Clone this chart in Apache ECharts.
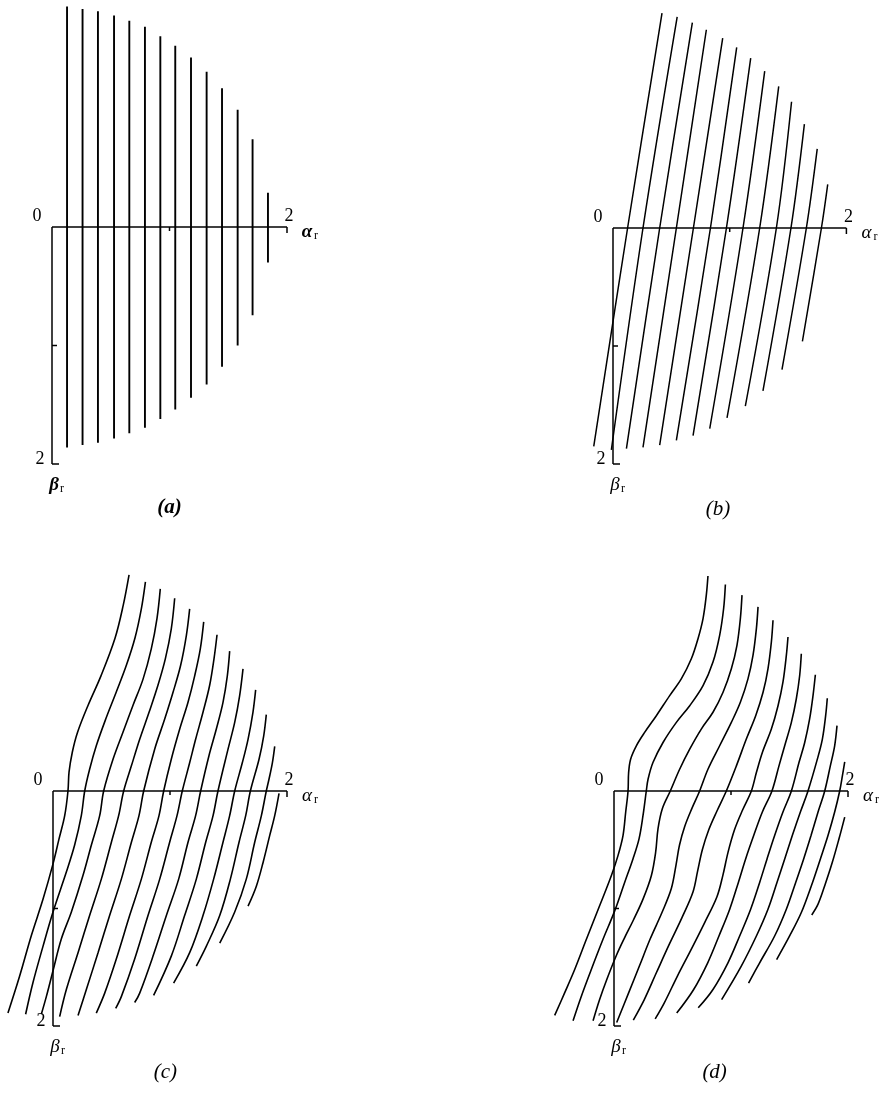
<!DOCTYPE html>
<html>
<head>
<meta charset="utf-8">
<script src="https://cdn.jsdelivr.net/npm/echarts@6/dist/echarts.min.js"></script>
<style>
  html, body { margin: 0; padding: 0; background: #fff; }
  #chart { width: 883px; height: 1093px; }
</style>
</head>
<body>
<div id="chart"></div>
<script>
// ---- values (alpha_r horizontal, beta_r downward) ----

// Panel (a): vertical contours, one per alpha value, with their upper and lower ends
const linesA_alpha  = [0.128, 0.260, 0.391, 0.528, 0.658, 0.791, 0.922, 1.049, 1.183, 1.316, 1.447, 1.580, 1.707, 1.838];
const linesA_top    = [-1.86, -1.84, -1.82, -1.785, -1.74, -1.69, -1.61, -1.53, -1.43, -1.31, -1.17, -0.99, -0.74, -0.29];
const linesA_bottom = [1.86, 1.84, 1.82, 1.785, 1.74, 1.695, 1.62, 1.54, 1.44, 1.33, 1.18, 1.0, 0.745, 0.30];

// Panel (b): slanted contours [alpha, beta]
const curvesB = [
  [[0.42, -1.82], [0.125, 0], [-0.165, 1.85]],
  [[0.55, -1.79], [0.257, 0], [-0.014, 1.88]],
  [[0.68, -1.74], [0.40, 0], [0.115, 1.87]],
  [[0.80, -1.68], [0.543, 0], [0.257, 1.86]],
  [[0.94, -1.61], [0.689, 0], [0.40, 1.84]],
  [[1.06, -1.53], [0.835, 0], [0.543, 1.80]],
  [[1.18, -1.44], [0.972, 0], [0.686, 1.76]],
  [[1.30, -1.33], [1.114, 0], [0.829, 1.70]],
  [[1.42, -1.20], [1.257, 0], [0.977, 1.61]],
  [[1.53, -1.07], [1.40, 0], [1.134, 1.51]],
  [[1.64, -0.88], [1.525, 0], [1.285, 1.38]],
  [[1.75, -0.67], [1.657, 0], [1.448, 1.20]],
  [[1.84, -0.37], [1.786, 0], [1.623, 0.96]]
];

// Panel (c): gently S-shaped contours [alpha, beta]
const curvesC = [
  [[0.65,-1.84],[0.60,-1.58],[0.53,-1.30],[0.41,-0.98],[0.30,-0.73],[0.21,-0.50],[0.165,-0.33],[0.137,-0.16],[0.128,0],[0.10,0.21],[0.051,0.41],[0,0.62],[-0.085,0.92],[-0.185,1.23],[-0.285,1.575],[-0.385,1.89]],
  [[0.79,-1.78],[0.755,-1.55],[0.70,-1.30],[0.627,-1.07],[0.54,-0.84],[0.45,-0.61],[0.37,-0.385],[0.313,-0.185],[0.271,0],[0.242,0.21],[0.185,0.46],[0.114,0.69],[0,1.03],[-0.085,1.32],[-0.171,1.63],[-0.234,1.90]],
  [[0.917,-1.72],[0.889,-1.47],[0.84,-1.21],[0.769,-0.95],[0.684,-0.73],[0.598,-0.50],[0.513,-0.27],[0.433,0],[0.399,0.21],[0.328,0.46],[0.256,0.72],[0.157,1.03],[0.071,1.26],[0,1.53],[-0.057,1.75],[-0.10,1.90]],
  [[1.04,-1.64],[1.011,-1.38],[0.96,-1.125],[0.897,-0.90],[0.821,-0.67],[0.741,-0.44],[0.67,-0.214],[0.604,0],[0.561,0.21],[0.499,0.436],[0.413,0.75],[0.313,1.06],[0.214,1.376],[0.114,1.69],[0.057,1.92]],
  [[1.168,-1.55],[1.14,-1.325],[1.091,-1.07],[1.026,-0.84],[0.954,-0.61],[0.869,-0.356],[0.775,0],[0.735,0.21],[0.67,0.436],[0.584,0.75],[0.484,1.06],[0.385,1.376],[0.285,1.69],[0.214,1.91]],
  [[1.288,-1.44],[1.259,-1.21],[1.211,-0.98],[1.154,-0.755],[1.083,-0.527],[1.011,-0.27],[0.946,0],[0.906,0.21],[0.84,0.436],[0.755,0.75],[0.655,1.06],[0.541,1.43],[0.442,1.72],[0.37,1.89]],
  [[1.402,-1.33],[1.376,-1.125],[1.339,-0.90],[1.282,-0.67],[1.219,-0.44],[1.168,-0.24],[1.105,0],[1.06,0.21],[0.997,0.436],[0.912,0.75],[0.812,1.06],[0.698,1.43],[0.584,1.75],[0.536,1.85]],
  [[1.51,-1.19],[1.49,-0.98],[1.453,-0.755],[1.396,-0.527],[1.333,-0.30],[1.262,0],[1.219,0.21],[1.154,0.436],[1.074,0.75],[0.969,1.06],[0.855,1.405],[0.741,1.72],[0.698,1.80]],
  [[1.624,-1.04],[1.595,-0.81],[1.553,-0.584],[1.496,-0.356],[1.41,0],[1.368,0.21],[1.305,0.436],[1.225,0.75],[1.125,1.06],[1.011,1.405],[0.86,1.74]],
  [[1.732,-0.86],[1.709,-0.67],[1.667,-0.44],[1.618,-0.24],[1.553,0],[1.51,0.21],[1.453,0.436],[1.373,0.75],[1.282,1.06],[1.168,1.376],[1.031,1.635]],
  [[1.823,-0.65],[1.801,-0.47],[1.761,-0.27],[1.687,0],[1.647,0.21],[1.59,0.436],[1.516,0.75],[1.425,1.06],[1.311,1.32],[1.225,1.49]],
  [[1.895,-0.38],[1.875,-0.24],[1.846,-0.10],[1.823,0],[1.781,0.21],[1.724,0.436],[1.652,0.75],[1.553,1.03],[1.425,1.295]],
  [[1.932,0.02],[1.895,0.21],[1.852,0.38],[1.795,0.61],[1.738,0.81],[1.667,0.98]]
];

// Panel (d): strongly S-shaped contours [alpha, beta]
const curvesD = [
  [[0.803,-1.83],[0.789,-1.667],[0.761,-1.467],[0.718,-1.296],[0.661,-1.125],[0.575,-0.954],[0.476,-0.812],[0.362,-0.641],[0.262,-0.499],[0.191,-0.385],[0.142,-0.271],[0.125,-0.157],[0.12,0],[0.10,0.179],[0.077,0.379],[0.034,0.55],[-0.023,0.721],[-0.123,0.977],[-0.236,1.262],[-0.336,1.519],[-0.422,1.718],[-0.507,1.91]],
  [[0.952,-1.758],[0.937,-1.553],[0.903,-1.325],[0.846,-1.097],[0.761,-0.897],[0.647,-0.726],[0.533,-0.584],[0.419,-0.413],[0.333,-0.242],[0.291,-0.10],[0.276,0],[0.248,0.208],[0.214,0.407],[0.162,0.578],[0.091,0.778],[0.006,1.02],[-0.094,1.262],[-0.194,1.519],[-0.279,1.746],[-0.35,1.955]],
  [[1.094,-1.667],[1.08,-1.467],[1.051,-1.239],[1.003,-1.04],[0.932,-0.84],[0.846,-0.67],[0.746,-0.527],[0.647,-0.356],[0.561,-0.185],[0.481,0],[0.413,0.151],[0.376,0.322],[0.356,0.521],[0.319,0.721],[0.248,0.92],[0.165,1.10],[0.085,1.26],[0.02,1.40],[-0.06,1.60],[-0.125,1.78],[-0.179,1.955]],
  [[1.231,-1.567],[1.217,-1.382],[1.188,-1.154],[1.145,-0.954],[1.08,-0.755],[1.003,-0.584],[0.903,-0.385],[0.803,-0.185],[0.732,0],[0.665,0.15],[0.605,0.30],[0.56,0.46],[0.53,0.63],[0.49,0.83],[0.41,1.034],[0.308,1.262],[0.217,1.49],[0.125,1.718],[0.023,1.97]],
  [[1.359,-1.453],[1.345,-1.268],[1.316,-1.04],[1.274,-0.84],[1.211,-0.641],[1.131,-0.442],[1.046,-0.214],[0.96,0],[0.88,0.17],[0.81,0.33],[0.755,0.50],[0.715,0.68],[0.675,0.86],[0.58,1.08],[0.47,1.31],[0.362,1.547],[0.259,1.775],[0.165,1.95]],
  [[1.487,-1.311],[1.473,-1.154],[1.444,-0.926],[1.402,-0.726],[1.345,-0.527],[1.268,-0.328],[1.217,-0.157],[1.174,0],[1.10,0.16],[1.03,0.33],[0.975,0.52],[0.93,0.72],[0.88,0.90],[0.775,1.12],[0.66,1.348],[0.542,1.575],[0.43,1.803],[0.352,1.94]],
  [[1.601,-1.168],[1.587,-0.983],[1.558,-0.783],[1.516,-0.584],[1.459,-0.385],[1.41,-0.214],[1.35,0],[1.268,0.179],[1.194,0.379],[1.125,0.578],[1.063,0.778],[0.989,1.006],[0.897,1.234],[0.801,1.462],[0.681,1.689],[0.536,1.89]],
  [[1.721,-0.989],[1.701,-0.812],[1.672,-0.613],[1.63,-0.413],[1.581,-0.242],[1.516,0],[1.444,0.179],[1.373,0.379],[1.308,0.578],[1.245,0.778],[1.168,1.006],[1.074,1.234],[0.974,1.462],[0.846,1.689],[0.72,1.845]],
  [[1.823,-0.789],[1.809,-0.641],[1.781,-0.442],[1.738,-0.271],[1.658,0],[1.593,0.179],[1.524,0.379],[1.459,0.578],[1.393,0.778],[1.316,1.006],[1.217,1.234],[1.088,1.49],[0.92,1.775]],
  [[1.906,-0.556],[1.886,-0.385],[1.849,-0.214],[1.801,0],[1.744,0.179],[1.684,0.379],[1.621,0.578],[1.553,0.778],[1.473,1.006],[1.373,1.234],[1.245,1.462],[1.15,1.635]],
  [[1.972,-0.248],[1.952,-0.128],[1.929,0],[1.886,0.179],[1.829,0.379],[1.764,0.578],[1.687,0.806],[1.601,1.034],[1.501,1.234],[1.39,1.435]],
  [[1.972,0.222],[1.923,0.407],[1.866,0.607],[1.801,0.806],[1.744,0.963],[1.69,1.055]]
];

// Axis ticks and their labels (both axes run 0..2)
const axisTickValues = [1, 2];
const axisEnd = 2;
const originLabel = '0';
const endLabel = '2';
const panelCaptions = ['(a)', '(b)', '(c)', '(d)'];

// ---- layout: pixel origin and scale of each panel ----
const layout = [
  { ox: 52,  oy: 227, sx: 117.5, sy: 118.5, xmin: -0.40, capX: 1.00, capBold: true,  lw: 1.9 },
  { ox: 613, oy: 228, sx: 116.7, sy: 118.0, xmin: -0.40, capX: 0.90, capBold: false, lw: 1.5 },
  { ox: 53,  oy: 791, sx: 117.0, sy: 117.5, xmin: -0.45, capX: 0.96, capBold: false, lw: 1.6 },
  { ox: 614, oy: 791, sx: 117.0, sy: 117.5, xmin: -0.60, capX: 0.86, capBold: false, lw: 1.6 }
];
const XMAX = 2.45, YMIN = -1.9, YMAX = 2.2;
const SERIF = '"Liberation Serif", "DejaVu Serif", serif';

const grids = [], xAxes = [], yAxes = [], series = [];

layout.forEach((p, i) => {
  grids.push({
    left: p.ox + p.xmin * p.sx,
    top: p.oy + YMIN * p.sy,
    width: (XMAX - p.xmin) * p.sx,
    height: (YMAX - YMIN) * p.sy,
    outerBoundsMode: 'none'
  });
  xAxes.push({ type: 'value', gridIndex: i, min: p.xmin, max: XMAX, show: false });
  yAxes.push({ type: 'value', gridIndex: i, min: YMIN, max: YMAX, inverse: true, show: false });
});

function contour(points, i) {
  return {
    type: 'line', xAxisIndex: i, yAxisIndex: i,
    data: points, showSymbol: false, symbol: 'none',
    smooth: 0.35, clip: false, silent: true, animation: false,
    lineStyle: { color: '#000', width: layout[i].lw }
  };
}

// Panel (a)
linesA_alpha.forEach((a, k) => {
  series.push(contour([[a, linesA_top[k]], [a, linesA_bottom[k]]], 0));
});
curvesB.forEach(c => series.push(contour(c, 1)));
curvesC.forEach(c => series.push(contour(c, 2)));
curvesD.forEach(c => series.push(contour(c, 3)));

// Axis frame: alpha axis along beta = 0, beta axis along alpha = 0, ticks and labels
function frameRenderer(i) {
  const p = layout[i];
  return function (params, api) {
    const o = api.coord([0, 0]);
    const xe = api.coord([axisEnd, 0]);
    const ye = api.coord([0, axisEnd]);
    const stroke = { stroke: '#000', lineWidth: 1.5 };
    const seg = (x1, y1, x2, y2) => ({ type: 'line', shape: { x1, y1, x2, y2 }, style: stroke });
    const txt = (text, x, y, font, align) => ({
      type: 'text',
      style: { text, x, y, font, fill: '#000', textAlign: align || 'center', textVerticalAlign: 'middle', align: align || 'center', verticalAlign: 'middle' }
    });
    const kids = [seg(o[0], o[1], xe[0], xe[1]), seg(o[0], o[1], ye[0], ye[1])];
    axisTickValues.forEach(v => {
      const tx = api.coord([v, 0]);
      const ty = api.coord([0, v]);
      const big = v === axisEnd;
      kids.push(seg(tx[0], tx[1], tx[0], tx[1] + (big ? 6 : 4)));
      kids.push(seg(ty[0], ty[1], ty[0] + (big ? 7 : 5), ty[1]));
    });
    const numFont = '18px ' + SERIF;
    kids.push(txt(originLabel, o[0] - 15, o[1] - 11, numFont));
    kids.push(txt(endLabel, xe[0] + 2, o[1] - 11, numFont));
    kids.push(txt(endLabel, o[0] - 12, ye[1] - 5, numFont));
    // alpha_r and beta_r axis names
    const greek = (p.capBold ? 'italic bold ' : 'italic ') + '19px ' + SERIF;
    const sub = '12px ' + SERIF;
    kids.push(txt('α', xe[0] + 20, o[1] + 5, greek));
    kids.push(txt('r', xe[0] + 29, o[1] + 9, sub));
    kids.push(txt('β', o[0] + 2, ye[1] + 21, greek));
    kids.push(txt('r', o[0] + 10, ye[1] + 25, sub));
    // panel caption
    const cx = api.coord([p.capX, 0])[0];
    const capFont = 'italic ' + (p.capBold ? 'bold ' : '') + '21px ' + SERIF;
    kids.push(txt(panelCaptions[i], cx, o[1] + 281, capFont));
    return { type: 'group', children: kids };
  };
}

layout.forEach((p, i) => {
  series.push({
    type: 'custom', xAxisIndex: i, yAxisIndex: i,
    data: [[0, 0]], renderItem: frameRenderer(i),
    silent: true, animation: false, clip: false, z: 3
  });
});

const chart = echarts.init(document.getElementById('chart'), null, { renderer: 'canvas' });
chart.setOption({
  backgroundColor: '#fff',
  animation: false,
  grid: grids,
  xAxis: xAxes,
  yAxis: yAxes,
  series: series
});
</script>
</body>
</html>
